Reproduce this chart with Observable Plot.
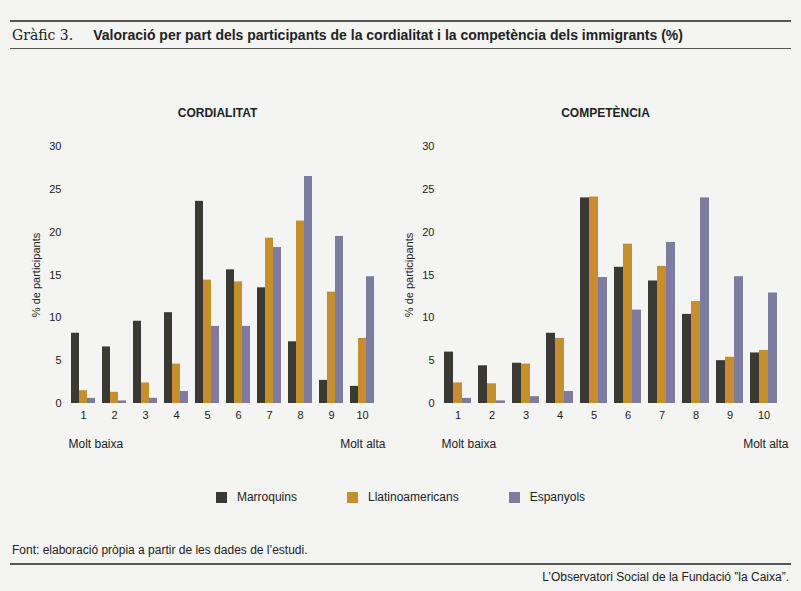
<!DOCTYPE html>
<html><head><meta charset="utf-8">
<script src="https://cdn.jsdelivr.net/npm/d3@7"></script>
<script src="https://cdn.jsdelivr.net/npm/@observablehq/plot@0.6"></script>
<style>
body{margin:0;background:#f4f4f3;font-family:"Liberation Sans",Arial,sans-serif;color:#222;}
#wrap{width:801px;height:591px;position:relative;}
.rule{position:absolute;left:10px;right:10px;border-top:2px solid #555;}
.charts{position:absolute;top:106px;left:0;display:flex;}
.ct{font-size:12px;font-weight:bold;text-align:center;margin-bottom:6px;}
.legend{position:absolute;top:490px;left:0;width:801px;display:flex;justify-content:center;gap:50px;font-size:12px;}
.legend span{display:inline-flex;align-items:center;gap:10px}
.sw{width:11px;height:11px;display:inline-block}
</style></head><body><div id="wrap">
<div class="rule" style="top:20px"></div>
<div style="position:absolute;top:27px;left:12px;font-size:14px;"><span style="font-family:'DejaVu Serif',serif">Gràfic 3.</span><b style="margin-left:20px">Valoració per part dels participants de la cordialitat i la competència dels immigrants (%)</b></div>
<div class="rule" style="top:48px;border-top-width:1px"></div>
<div class="charts" id="charts"></div>
<div class="legend" id="legend"></div>
<div style="position:absolute;top:543px;left:12px;font-size:12px">Font: elaboració pròpia a partir de les dades de l’estudi.</div>
<div class="rule" style="top:563px"></div>
<div style="position:absolute;top:570px;right:12px;font-size:12px">L’Observatori Social de la Fundació ”la Caixa”.</div>
</div>
<script>
const categories=[1,2,3,4,5,6,7,8,9,10];
const series=["Marroquins","Llatinoamericans","Espanyols"];
const colors=["#3b3934","#c68f2e","#7d7ca0"];
const cordM=[8.2,6.6,9.6,10.6,23.6,15.6,13.5,7.2,2.7,2.0];
const cordL=[1.5,1.3,2.4,4.6,14.4,14.2,19.3,21.3,13.0,7.6];
const cordE=[0.6,0.3,0.6,1.4,9.0,9.0,18.2,26.5,19.5,14.8];
const compM=[6.0,4.4,4.7,8.2,24.0,15.9,14.3,10.4,5.0,5.9];
const compL=[2.4,2.3,4.6,7.6,24.1,18.6,16.0,11.9,5.4,6.2];
const compE=[0.6,0.3,0.8,1.4,14.7,10.9,18.8,24.0,14.8,12.9];
const yTicks=[0,5,10,15,20,25,30];
function table(a){const r=[];categories.forEach((c,i)=>a.forEach((s,j)=>r.push({c,s:series[j],v:s[i]})));return r;}
function chart(title,arrs,ml,w){
  const d=document.createElement("div");d.style.width=w+"px";
  d.innerHTML=`<div class="ct" style="padding-left:${ml-30}px">${title}</div>`;
  const p=Plot.plot({width:w,height:327,marginLeft:ml,marginRight:20,marginTop:20,marginBottom:50,
    style:{background:"transparent",fontSize:"11px",fontFamily:"Liberation Sans, Arial"},
    fx:{domain:categories,padding:0.15,label:null,tickSize:0,axis:"bottom",tickPadding:8},
    x:{domain:series,axis:null,padding:0.05},
    y:{domain:[0,30],ticks:yTicks,label:"% de participants",labelAnchor:"center",labelArrow:"none",tickSize:0,labelOffset:38},
    color:{domain:series,range:colors},
    marks:[Plot.barY(table(arrs),{fx:"c",x:"s",y:"v",fill:"s"}),
      Plot.text([{c:1}],{fx:"c",text:()=>"Molt baixa",frameAnchor:"bottom-left",dy:44,dx:-2,fontSize:12,textAnchor:"start"}),
      Plot.text([{c:10}],{fx:"c",text:()=>"Molt alta",frameAnchor:"bottom-right",dy:44,dx:10,fontSize:12,textAnchor:"end"})]});
  p.style.overflow="visible";
  d.appendChild(p);return d;
}
const c=document.getElementById("charts");
c.appendChild(chart("CORDIALITAT",[cordM,cordL,cordE],65,400));
c.appendChild(chart("COMPETÈNCIA",[compM,compL,compE],40,401));
document.getElementById("legend").innerHTML=series.map((s,i)=>`<span><i class="sw" style="background:${colors[i]}"></i>${s}</span>`).join("");
</script></body></html>
